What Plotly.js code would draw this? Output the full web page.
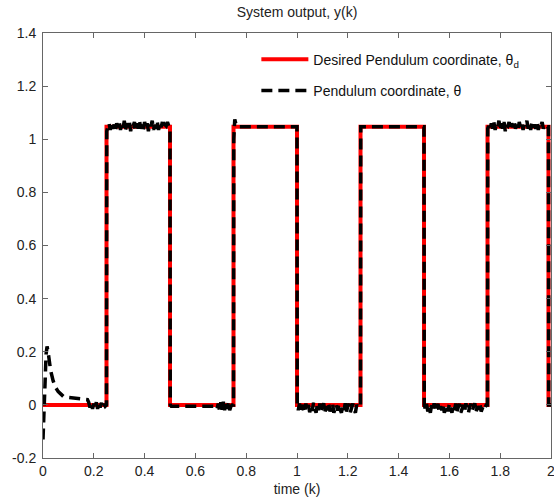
<!DOCTYPE html>
<html>
<head>
<meta charset="utf-8">
<script src="https://cdn.plot.ly/plotly-3.0.1.min.js"></script>
<style>html,body{margin:0;padding:0;background:#fff;}#chart{width:554px;height:502px;}</style>
</head>
<body>
<div id="chart"></div>
<script>
// ---- data ----
const desiredT = [0, 0.25, 0.25, 0.5, 0.5, 0.75, 0.75, 1.0, 1.0, 1.25, 1.25, 1.5, 1.5, 1.75, 1.75, 1.99, 1.99, 2.0];
const desiredY = [0, 0, 1.047, 1.047, 0, 0, 1.047, 1.047, 0, 0, 1.047, 1.047, 0, 0, 1.047, 1.047, 0, 0];

const sampleStep = 0.005;

// initial transient
const transT = [0, 0.004, 0.008, 0.012, 0.016, 0.02, 0.025, 0.03, 0.04, 0.05, 0.06, 0.07, 0.08, 0.1, 0.12, 0.14, 0.16, 0.175];
const transY = [-0.13, -0.05, 0.08, 0.19, 0.22, 0.2, 0.16, 0.13, 0.09, 0.065, 0.05, 0.04, 0.032, 0.028, 0.026, 0.025, 0.024, 0.02];

// noisy segments (samples every sampleStep from given start)
const noiseA_start = 0.18;
const noiseA = [0.01, -0.01, 0.008, -0.015, 0.005, -0.012, 0.01, -0.015, 0.006, -0.01, 0.008, -0.014, 0.004, -0.005];

const highA_start = 0.255;
const highA = [1.045, 1.06, 1.035, 1.065, 1.04, 1.055, 1.03, 1.06, 1.045, 1.065, 1.035, 1.055,
               1.04, 1.07, 1.035, 1.06, 1.045, 1.065, 1.03, 1.055, 1.05, 1.065, 1.035, 1.06,
               1.04, 1.07, 1.04, 1.055, 1.035, 1.065, 1.045, 1.06, 1.03, 1.06, 1.05, 1.07,
               1.035, 1.055, 1.04, 1.065, 1.035, 1.06, 1.045, 1.065, 1.04, 1.055, 1.05, 1.065];

const noiseB_start = 0.685;
const noiseB = [-0.015, 0.005, -0.02, 0.01, -0.018, 0.012, -0.02, 0.005, -0.015, 0.01, -0.02, -0.005];

const noiseC_start = 1.005;
const noiseC = [-0.02, 0.005, -0.025, 0.0, -0.015, -0.03, 0.005, -0.02, 0.0, -0.028, -0.005, -0.022,
                0.008, -0.018, -0.03, 0.0, -0.02, 0.005, -0.025, -0.01, 0.006, -0.028, -0.005, -0.02,
                0.004, -0.025, -0.008, 0.006, -0.03, -0.01, 0.0, -0.022, 0.005, -0.018, -0.03, 0.0,
                -0.02, 0.006, -0.025, -0.005, 0.004, -0.028, -0.01, 0.005, -0.02, -0.03, 0.0, -0.01];

const noiseD_start = 1.505;
const noiseD = [-0.015, 0.005, -0.025, -0.005, -0.03, 0.0, -0.018, 0.006, -0.025, -0.01, 0.004, -0.028,
                -0.005, -0.02, 0.005, -0.03, -0.01, 0.0, -0.025, 0.006, -0.015, -0.03, 0.0, -0.02,
                0.005, -0.025, -0.008, 0.004, -0.03, -0.012, 0.0, -0.025, 0.006, -0.02, -0.03, -0.005,
                0.004, -0.022, -0.01, 0.006, -0.028, -0.005, -0.018, 0.005, -0.025, -0.01, 0.0, -0.01];

const highB_start = 1.755;
const highB = [1.05, 1.035, 1.06, 1.04, 1.065, 1.035, 1.055, 1.045, 1.07, 1.035, 1.06, 1.04,
               1.065, 1.03, 1.055, 1.05, 1.065, 1.035, 1.06, 1.045, 1.07, 1.04, 1.055, 1.035,
               1.065, 1.045, 1.06, 1.035, 1.055, 1.05, 1.07, 1.04, 1.06, 1.035, 1.065, 1.045,
               1.055, 1.04, 1.065, 1.035, 1.06, 1.05, 1.065, 1.04, 1.055, 1.05];

// edges / flat parts connecting the segments
const edge1T = [0.25, 0.251];                      const edge1Y = [0.0, 1.03];
const edge2T = [0.497, 0.5, 0.501, 0.505, 0.68];   const edge2Y = [1.045, 1.04, 0.0, -0.005, -0.005];
const edge3T = [0.745, 0.75, 0.751, 0.755, 0.76, 0.768, 0.998, 1.0, 1.001];
const edge3Y = [0.0, 0.0, 1.0, 1.075, 1.055, 1.047, 1.047, 1.047, 0.0];
const edge4T = [1.245, 1.25, 1.251, 1.5, 1.501];   const edge4Y = [-0.005, 0.0, 1.047, 1.047, 0.0];
const edge5T = [1.745, 1.75, 1.751];               const edge5Y = [0.0, 0.0, 1.04];
const edge6T = [1.985, 1.99, 1.991, 2.0];          const edge6Y = [1.047, 1.047, 0.0, 0.0];

const xTickVals = [0, 0.2, 0.4, 0.6, 0.8, 1, 1.2, 1.4, 1.6, 1.8, 2];
const xTickText = ['0', '0.2', '0.4', '0.6', '0.8', '1', '1.2', '1.4', '1.6', '1.8', '2'];
const yTickVals = [-0.2, 0, 0.2, 0.4, 0.6, 0.8, 1, 1.2, 1.4];
const yTickText = ['-0.2', '0', '0.2', '0.4', '0.6', '0.8', '1', '1.2', '1.4'];

// ---- assemble actual response ----
const actualT = [], actualY = [];
function addPts(ts, ys) { for (let i = 0; i < ys.length; i++) { actualT.push(ts[i]); actualY.push(ys[i]); } }
function addSampled(start, ys) { for (let i = 0; i < ys.length; i++) { actualT.push(+(start + i * sampleStep).toFixed(4)); actualY.push(ys[i]); } }
addPts(transT, transY);
addSampled(noiseA_start, noiseA);
addPts(edge1T, edge1Y);
addSampled(highA_start, highA);
addPts(edge2T, edge2Y);
addSampled(noiseB_start, noiseB);
addPts(edge3T, edge3Y);
addSampled(noiseC_start, noiseC);
addPts(edge4T, edge4Y);
addSampled(noiseD_start, noiseD);
addPts(edge5T, edge5Y);
addSampled(highB_start, highB);
addPts(edge6T, edge6Y);

const font = 'Liberation Sans, Arial, sans-serif';

const traces = [
  { x: desiredT, y: desiredY, type: 'scatter', mode: 'lines',
    name: 'Desired Pendulum coordinate, θ<sub>d</sub>', legendgroup: 'a',
    line: { color: '#ff0000', width: 4 } },
  { x: actualT, y: actualY, type: 'scatter', mode: 'lines',
    name: 'Pendulum coordinate, θ', legendgroup: 'b',
    line: { color: '#000000', width: 3.5, dash: '11px,6px' } }
];

const axisCommon = {
  showgrid: false, zeroline: false, showline: true, linecolor: '#666', linewidth: 1,
  mirror: 'ticks', ticks: 'inside', ticklen: 5, tickcolor: '#666',
  tickfont: { family: font, size: 14, color: '#222' }
};

const layout = {
  width: 554, height: 502,
  margin: { l: 43, r: 3, t: 33, b: 44 },
  paper_bgcolor: '#fff', plot_bgcolor: '#fff',
  font: { family: font, size: 14, color: '#222' },
  title: { text: 'System output, y(k)', font: { family: font, size: 14, color: '#222' },
           x: 0.5, xref: 'paper', xanchor: 'center', y: 0.976, yanchor: 'middle' },
  xaxis: Object.assign({}, axisCommon, {
    range: [0, 2], tickmode: 'array', tickvals: xTickVals, ticktext: xTickText,
    ticklabeloverflow: 'allow',
    title: { text: 'time (k)', font: { family: font, size: 14, color: '#222' }, standoff: 6 }
  }),
  yaxis: Object.assign({}, axisCommon, {
    range: [-0.2, 1.4], tickmode: 'array', tickvals: yTickVals, ticktext: yTickText,
    ticklabelstandoff: 3
  }),
  showlegend: true,
  legend: {
    x: 0.42, y: 0.975, xanchor: 'left', yanchor: 'top',
    bgcolor: 'rgba(255,255,255,0)', borderwidth: 0,
    font: { family: font, size: 14, color: '#111' },
    tracegroupgap: 10, itemwidth: 47
  }
};

Plotly.newPlot('chart', traces, layout, { staticPlot: true, displayModeBar: false });
</script>
</body>
</html>
